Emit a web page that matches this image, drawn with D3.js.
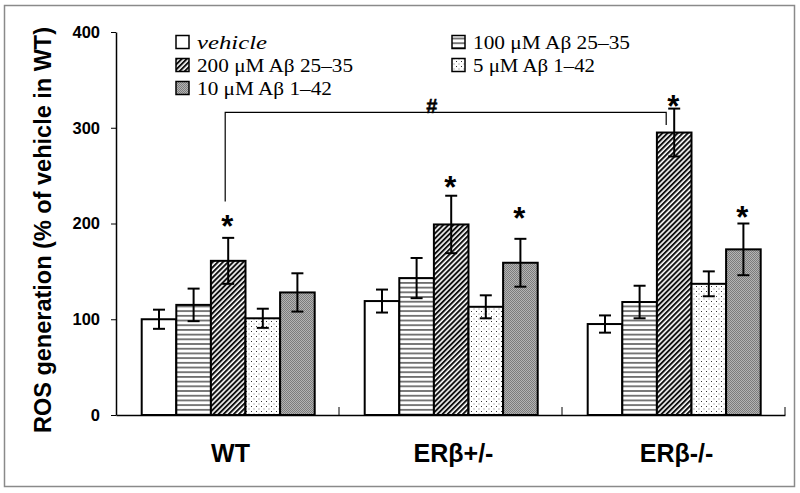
<!DOCTYPE html>
<html><head><meta charset="utf-8">
<script src="https://cdn.jsdelivr.net/npm/d3@7"></script>
<style>body{margin:0;background:#fff}svg{display:block}</style>
</head><body>
<svg id="c" width="800" height="493"></svg>
<script>
// ---- data ----
const groups = ["WT", "ERβ+/-", "ERβ-/-"];
const series = ["vehicle", "100 μM Aβ 25–35", "200 μM Aβ 25–35", "5 μM Aβ 1–42", "10 μM Aβ 1–42"];
const means = [
  [100, 115, 161, 101, 128],
  [119, 143, 199, 113, 159],
  [95, 118, 295, 137, 173]
];
const errors = [
  [10, 17, 24, 10, 20],
  [12, 21, 30, 12, 25],
  [9, 17, 25, 13, 27]
];
// significance stars: [group, series, y in data units]
const stars = [[0, 2, 204], [1, 2, 244], [1, 4, 212], [2, 2, 329], [2, 4, 213]];
const yTicks = [0, 100, 200, 300, 400];
const bracket = {from: [0, 2], to: [2, 2], top: 316, leftBottom: 223, rightBottom: 303, label: "#"};

// ---- chart ----
const svg = d3.select("#c");
svg.append("rect").attr("x", 4.5).attr("y", 5.5).attr("width", 790).attr("height", 481)
  .attr("fill", "#fff").attr("stroke", "#8a8a8a").attr("stroke-width", 1.5);

const defs = svg.append("defs");
const pH = defs.append("pattern").attr("id", "p1").attr("patternUnits", "userSpaceOnUse").attr("width", 4).attr("height", 4.7);
pH.append("rect").attr("width", 4).attr("height", 4.7).attr("fill", "#fff");
pH.append("rect").attr("y", 0).attr("width", 4).attr("height", 1.8).attr("fill", "#6e6e6e");
const pD = defs.append("pattern").attr("id", "p2").attr("patternUnits", "userSpaceOnUse").attr("width", 3.6).attr("height", 3.6).attr("patternTransform", "rotate(45)");
pD.append("rect").attr("width", 3.6).attr("height", 3.6).attr("fill", "#fff");
pD.append("rect").attr("width", 2).attr("height", 3.6).attr("fill", "#111");
const pS = defs.append("pattern").attr("id", "p3").attr("patternUnits", "userSpaceOnUse").attr("width", 5).attr("height", 5);
pS.append("rect").attr("width", 5).attr("height", 5).attr("fill", "#fff");
pS.append("rect").attr("x", 1).attr("y", 1).attr("width", 1).attr("height", 1).attr("fill", "#333");
pS.append("rect").attr("x", 3.5).attr("y", 3.5).attr("width", 1).attr("height", 1).attr("fill", "#777");
const pG = defs.append("pattern").attr("id", "p4").attr("patternUnits", "userSpaceOnUse").attr("width", 2).attr("height", 2);
pG.append("rect").attr("width", 2).attr("height", 2).attr("fill", "#b4b4b4");
pG.append("rect").attr("width", 1).attr("height", 1).attr("fill", "#7c7c7c");
pG.append("rect").attr("x", 1).attr("y", 1).attr("width", 1).attr("height", 1).attr("fill", "#7c7c7c");
const fills = ["#fff", "url(#p1)", "url(#p2)", "url(#p3)", "url(#p4)"];

const x0 = d3.scaleBand().domain(groups).range([116, 785]).padding(0);
const x1 = d3.scaleBand().domain(series).range([25.7, 25.7 + 173]).padding(0);
const y = d3.scaleLinear().domain([0, 400]).range([415, 32]);
const cx = (g, s) => x0(groups[g]) + x1(series[s]) + x1.bandwidth() / 2;

// y axis
const yAxis = svg.append("g").attr("transform", "translate(116,0)")
  .call(d3.axisLeft(y).tickValues(yTicks).tickSize(5).tickSizeOuter(0));
yAxis.select(".domain").attr("stroke", "#000").attr("stroke-width", 1.5);
yAxis.selectAll(".tick line").attr("stroke", "#000").attr("stroke-width", 1);
yAxis.selectAll(".tick text").attr("x", -16).attr("font-family", "Liberation Sans, Arial, sans-serif")
  .attr("font-weight", "bold").attr("font-size", 16.5).attr("fill", "#000");

// x axis
const xAxis = svg.append("g").attr("transform", "translate(0,415)")
  .call(d3.axisBottom(x0).tickSize(0).tickSizeOuter(0));
xAxis.select(".domain").attr("stroke", "#000").attr("stroke-width", 1.5);
xAxis.selectAll(".tick text").attr("dy", 0).attr("y", 47).attr("dx", 3)
  .attr("font-family", "Liberation Sans, Arial, sans-serif").attr("font-weight", "bold")
  .attr("font-size", 25).attr("fill", "#000");
// inner boundary ticks
svg.append("g").selectAll("line").data([1, 2, 3]).join("line")
  .attr("x1", i => i < 3 ? x0(groups[i]) : x0.range()[1])
  .attr("x2", i => i < 3 ? x0(groups[i]) : x0.range()[1])
  .attr("y1", 415).attr("y2", 407).attr("stroke", "#000").attr("stroke-width", 1);

// bars
const flat = [];
groups.forEach((g, gi) => series.forEach((s, si) => flat.push({gi, si, v: means[gi][si], e: errors[gi][si]})));
svg.append("g").selectAll("rect").data(flat).join("rect")
  .attr("x", d => x0(groups[d.gi]) + x1(series[d.si]))
  .attr("y", d => y(d.v)).attr("width", x1.bandwidth()).attr("height", d => y(0) - y(d.v))
  .attr("fill", d => fills[d.si]).attr("stroke", "#000").attr("stroke-width", 2);

// error bars
const eb = svg.append("g").attr("stroke", "#000").attr("stroke-width", 2);
flat.forEach(d => {
  const c = cx(d.gi, d.si);
  eb.append("line").attr("x1", c).attr("x2", c).attr("y1", y(d.v + d.e)).attr("y2", y(d.v - d.e));
  eb.append("line").attr("x1", c - 6).attr("x2", c + 6).attr("y1", y(d.v + d.e)).attr("y2", y(d.v + d.e));
  eb.append("line").attr("x1", c - 6).attr("x2", c + 6).attr("y1", y(d.v - d.e)).attr("y2", y(d.v - d.e));
});

// bracket
const bl = cx(...bracket.from) - 3, br = cx(...bracket.to) - 8;
svg.append("path")
  .attr("d", `M${bl},${y(bracket.leftBottom)}V${y(bracket.top)}H${br}V${y(bracket.rightBottom)}`)
  .attr("fill", "none").attr("stroke", "#000").attr("stroke-width", 1.2);
svg.append("text").attr("x", (bl + br) / 2 - 14).attr("y", y(bracket.top) + 1)
  .attr("text-anchor", "middle").attr("font-family", "Liberation Sans, Arial, sans-serif")
  .attr("font-weight", "bold").attr("font-size", 20).attr("stroke", "#000").attr("stroke-width", 0.5)
  .text(bracket.label);

// stars
svg.append("g").selectAll("text").data(stars).join("text")
  .attr("x", d => cx(d[0], d[1]) - 1).attr("y", d => y(d[2]) + 17)
  .attr("text-anchor", "middle").attr("font-family", "Liberation Sans, Arial, sans-serif")
  .attr("font-weight", "bold").attr("font-size", 31).text("*");

// y title
svg.append("text").attr("transform", "translate(51,230) rotate(-90)")
  .attr("text-anchor", "middle").attr("font-family", "Liberation Sans, Arial, sans-serif")
  .attr("font-weight", "bold").attr("font-size", 23.5).text("ROS generation (% of vehicle in WT)");

// legend
const legPos = [[176, 42], [452, 42], [176, 65], [452, 65], [176, 88]];
const legWidth = [70, 157, 156, 122, 135];
const leg = svg.append("g");
series.forEach((s, i) => {
  const [lx, ly] = legPos[i];
  leg.append("rect").attr("x", lx).attr("y", ly - 6.5).attr("width", 13).attr("height", 13)
    .attr("fill", fills[i]).attr("stroke", "#000").attr("stroke-width", 1.5);
  leg.append("text").attr("x", lx + 21).attr("y", ly + 6.5)
    .attr("font-family", "Liberation Serif, Times New Roman, serif").attr("font-size", 19.5)
    .attr("textLength", legWidth[i]).attr("lengthAdjust", "spacingAndGlyphs")
    .attr("font-style", i === 0 ? "italic" : "normal").text(s);
});
</script>
</body></html>
